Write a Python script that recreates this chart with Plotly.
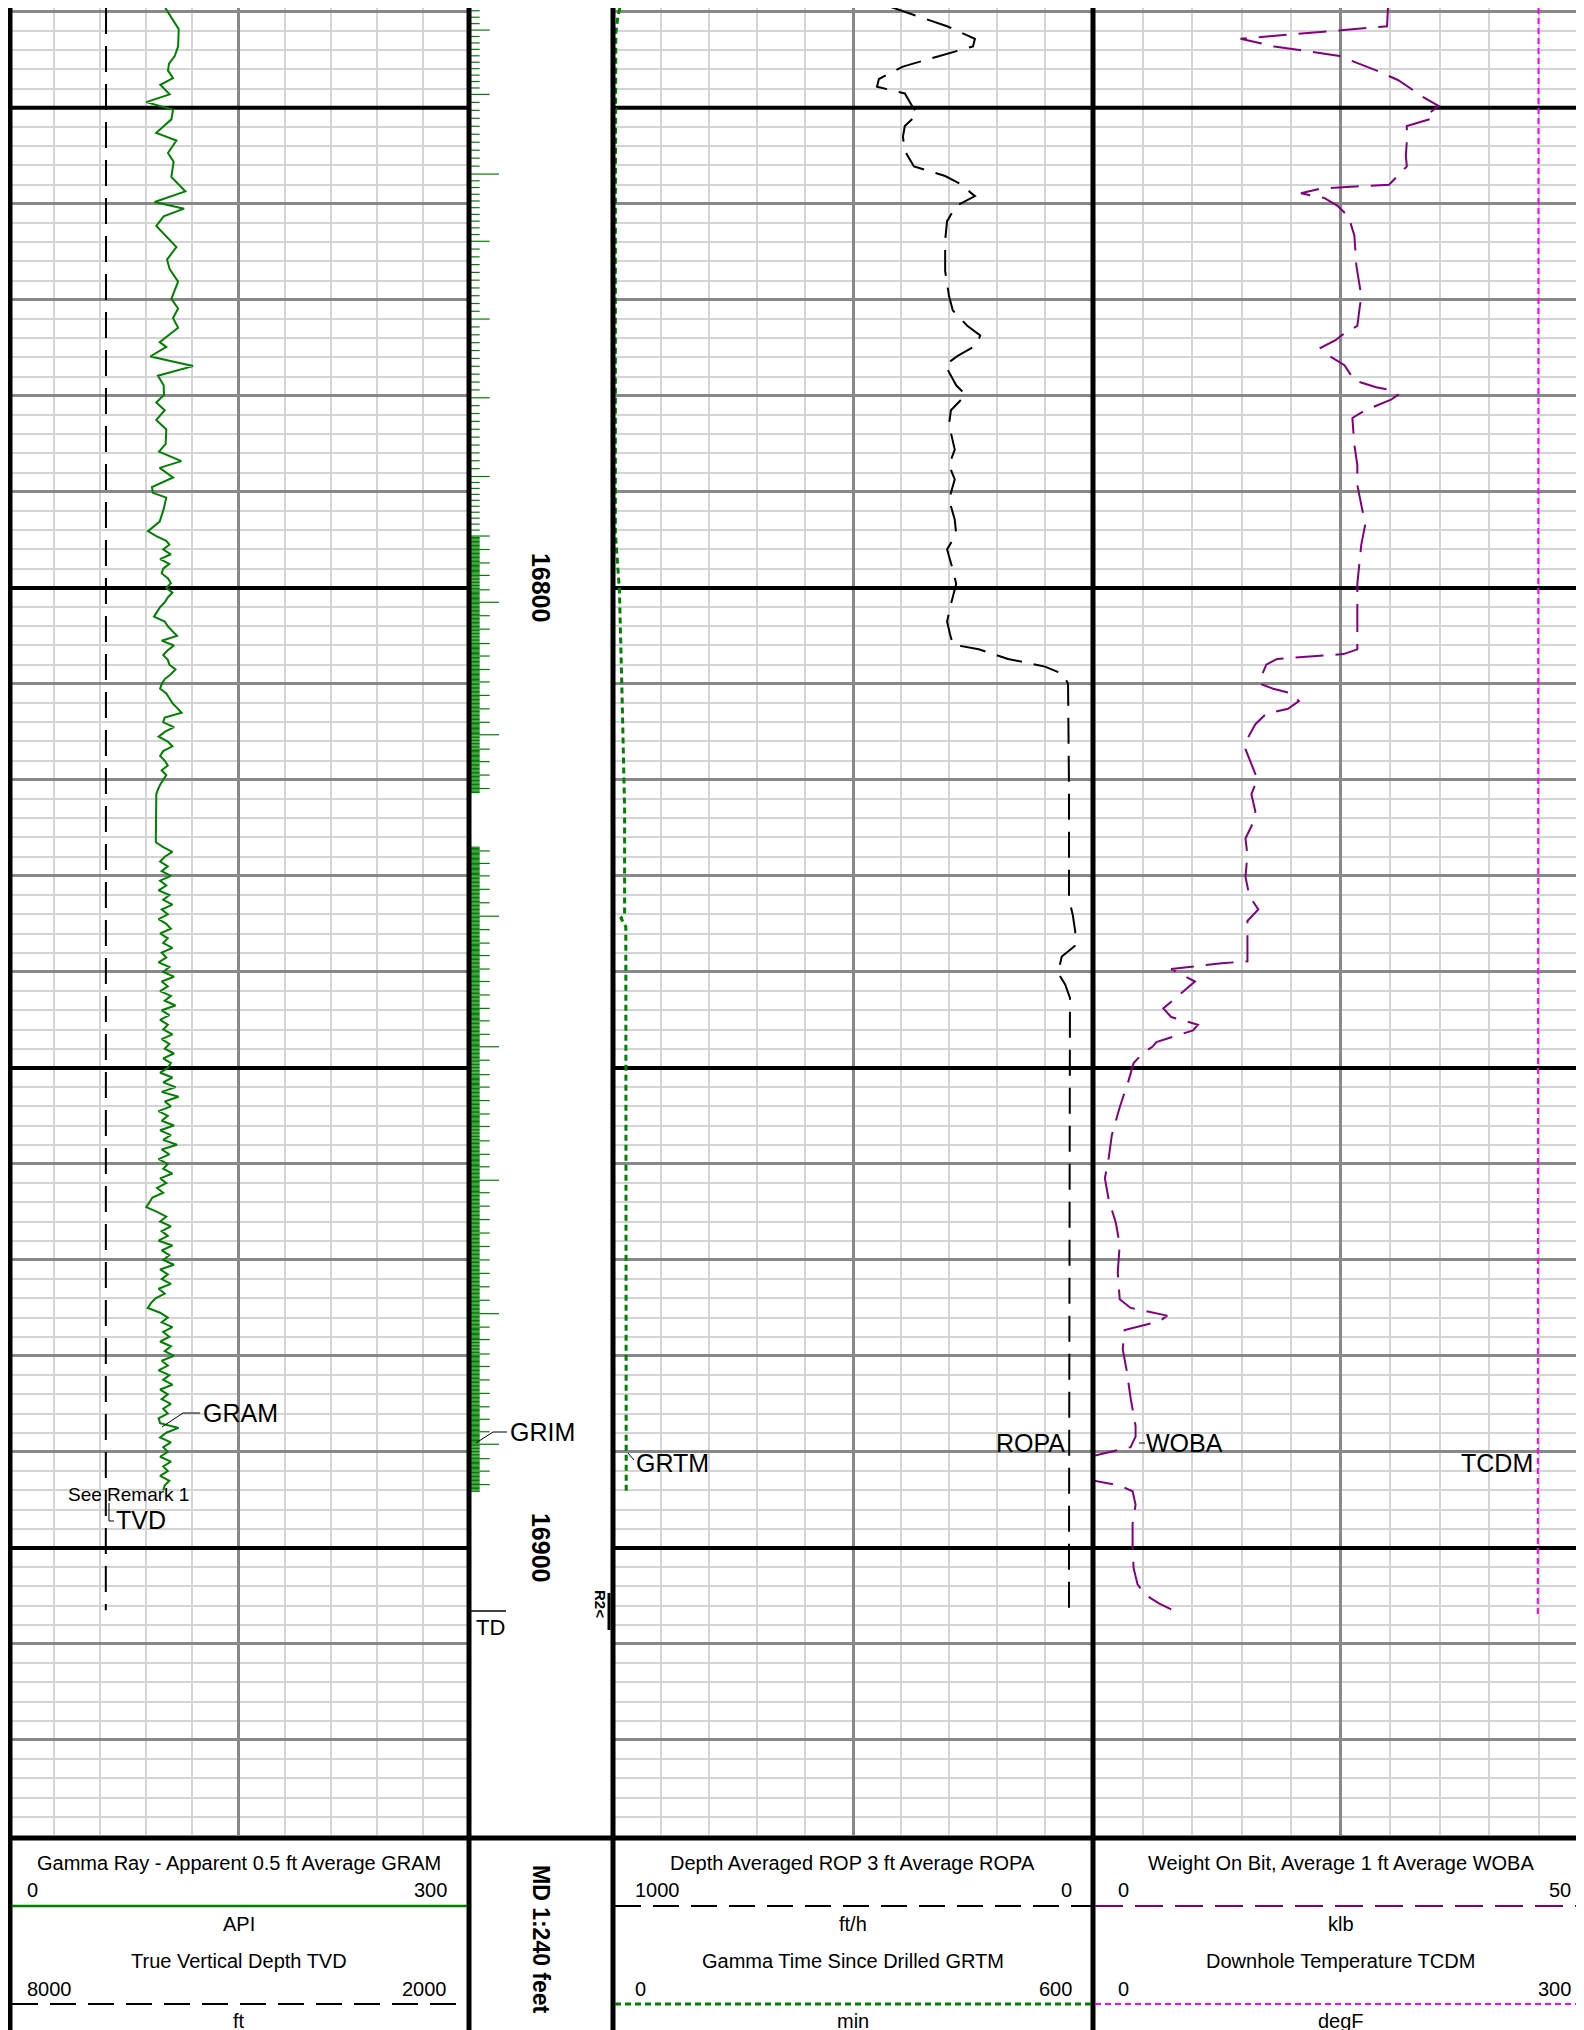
import plotly.graph_objects as go

W, H = 1584, 2030
FONT = "Liberation Sans, Arial, Helvetica, sans-serif"

# ---------------- data ----------------
DEPTH_TOP, DEPTH_BOTTOM = 16739.6, 16929.9
BOLD_DEPTHS = [16750, 16800, 16850, 16900]
DEPTH_LABELS = [16800, 16900]

# Gamma Ray apparent (API), track 1, scale 0..300
GRAM_SPARSE_DEPTH = [16739.6, 16741.8, 16743.6, 16744.6, 16745.4, 16746.1, 16746.9, 16747.6, 16748.6, 16749.4,
                     16750.2, 16751.2, 16752.6, 16753.4, 16754.7, 16755.6, 16757.2, 16758.7, 16759.8, 16760.5,
                     16761.3, 16762.3, 16764.5, 16765.8, 16766.8, 16768.1, 16769.9, 16770.9, 16771.9, 16772.9,
                     16774.4, 16774.9, 16775.9, 16776.9, 16777.9, 16778.9, 16779.9, 16780.7, 16781.5, 16782.5,
                     16783.5, 16785.0, 16785.8, 16786.8, 16787.5, 16788.5, 16789.5, 16790.1, 16790.6, 16791.8,
                     16793.1, 16794.1, 16794.6, 16795.1]
GRAM_SPARSE_API = [102.4, 111.1, 110.7, 108.5, 104.8, 104.1, 107.4, 99.1, 105.2, 90.0,
                   107.4, 106.3, 96.5, 109.6, 104.1, 107.8, 106.3, 115.4, 95.4, 114.6,
                   101.3, 96.5, 109.6, 103.5, 105.2, 110.7, 106.3, 110.7, 107.4, 110.7,
                   98.7, 103.0, 92.6, 120.4, 97.6, 101.3, 101.5, 96.5, 102.0, 96.5,
                   103.0, 102.6, 98.3, 112.8, 98.7, 107.4, 93.7, 94.3, 103.0, 101.3,
                   98.7, 91.1, 96.5, 103.0]
GRAM_STEP = 0.5
GRAM_DENSE1_START = 16795.5
GRAM_DENSE1_API = [105, 101, 106, 99, 105, 101, 100, 104, 106, 103,
                   107, 104, 102, 99, 97, 95, 102, 104, 107, 110,
                   100, 108, 104, 101, 104, 105, 109, 106, 102, 100,
                   99, 103, 105, 107, 110, 113, 102, 101, 108, 102,
                   98, 104, 107, 101, 99, 102, 104, 100, 103, 101,
                   99, 97.6, 96.5]
GRAM_GAP_DEPTH = [16826.5]
GRAM_GAP_API = [96.2]
GRAM_DENSE2_START = 16827.0
GRAM_DENSE2_API = [101, 107, 102, 99, 104, 100, 106, 99, 103, 98,
                   105, 101, 107, 100, 104, 98, 103, 106, 99, 104,
                   101, 107, 100, 103, 98, 105, 101, 108, 100, 104,
                   99, 106, 102, 109, 100, 105, 99, 104, 101, 107,
                   100, 105, 102, 108, 101, 106, 104, 99, 107, 101,
                   109, 100, 111, 102, 106, 98, 104, 100, 108, 99,
                   106, 101, 110, 100, 105, 98, 104, 101, 107, 99,
                   103, 97, 101, 94, 92, 90, 97, 103, 99, 106,
                   100, 104, 98, 107, 100, 105, 101, 108, 99, 104,
                   100, 106, 98, 102, 96, 93, 91, 99, 104, 100,
                   107, 101, 105, 99, 106, 102, 108, 100, 104, 98,
                   105, 101, 107, 99, 104, 100, 106, 101, 104, 98,
                   99, 111, 103, 99, 106, 101, 104, 99, 106, 101,
                   104, 99, 105, 102, 101]

# True vertical depth (ft), track 1, scale 8000..2000
TVD_DEPTH = [16739.6, 16800.0, 16850.0, 16906.5]
TVD_FT = [6724, 6725, 6726, 6727]

# Depth-averaged ROP (ft/h), track 2, scale 1000..0
ROPA_DEPTH = [16739.5, 16741.5, 16742.8, 16743.6, 16744.7, 16745.7, 16747.0, 16747.8, 16748.5, 16749.8,
              16750.6, 16751.9, 16753.0, 16754.5, 16756.1, 16757.1, 16757.9, 16759.2, 16760.2, 16761.8,
              16763.8, 16767.0, 16769.6, 16771.1, 16772.7, 16773.7, 16774.7, 16775.8, 16776.8, 16778.9,
              16779.9, 16781.5, 16783.0, 16785.6, 16787.2, 16788.7, 16790.8, 16792.9, 16794.4, 16796.0,
              16798.1, 16799.6, 16801.7, 16803.5, 16804.8, 16805.9, 16806.4, 16807.4, 16808.2, 16809.0,
              16810.0, 16820.8, 16832.4, 16834.1, 16835.8, 16837.3, 16838.4, 16840.1, 16841.3, 16842.7,
              16901.0, 16906.4]
ROPA_FTH = [421, 304, 246, 250, 327, 396, 446, 450, 392, 377,
            365, 392, 396, 392, 373, 308, 277, 246, 285, 304,
            308, 308, 300, 292, 262, 235, 242, 281, 308, 285,
            265, 296, 300, 288, 300, 288, 300, 288, 285, 304,
            292, 285, 296, 304, 298, 292, 238, 177, 100, 62,
            52, 50, 50, 42, 37, 38, 65, 73, 58, 48,
            50, 50]

# Gamma time since drilled (min), track 2, scale 0..600
GRTM_DEPTH = [16739.6, 16740.5, 16742.3, 16760.0, 16794.3, 16800.2, 16810.0, 16823.0, 16834.0, 16834.4,
              16835.3, 16860.0, 16894.2]
GRTM_MIN = [8.5, 6.0, 3.5, 3.0, 3.0, 8.0, 11.0, 14.5, 14.5, 10.0,
            16.0, 16.5, 16.5]

# Weight on bit (klb), track 3, scale 0..50
WOBA_DEPTH = [16739.5, 16741.5, 16742.8, 16743.6, 16744.6, 16746.1, 16747.1, 16748.9, 16749.8, 16750.6,
              16751.1, 16751.9, 16753.5, 16755.0, 16756.1, 16757.1, 16758.0, 16758.4, 16758.9, 16759.4,
              16760.2, 16761.3, 16763.3, 16766.4, 16769.6, 16771.1, 16772.7, 16773.7, 16774.2, 16775.0,
              16775.8, 16776.8, 16778.4, 16779.1, 16779.4, 16779.9, 16780.4, 16781.5, 16782.3, 16785.1,
              16787.2, 16789.3, 16791.3, 16793.4, 16795.5, 16797.6, 16799.6, 16801.7, 16804.3, 16806.4,
              16806.9, 16807.4, 16808.0, 16809.0, 16810.0, 16810.5, 16811.0, 16811.8, 16812.6, 16813.1,
              16814.2, 16815.7, 16816.8, 16818.3, 16819.9, 16821.5, 16823.3, 16824.4, 16826.1, 16827.8,
              16830.1, 16832.1, 16833.5, 16834.7, 16837.0, 16838.9, 16839.1, 16839.7, 16841.0, 16842.1,
              16843.8, 16844.7, 16845.5, 16846.1, 16846.7, 16847.3, 16847.8, 16848.4, 16849.5, 16851.3,
              16854.1, 16857.0, 16859.3, 16861.5, 16863.8, 16866.1, 16868.4, 16871.3, 16874.1, 16875.0,
              16875.8, 16876.4, 16877.3, 16879.3, 16881.5, 16884.4, 16887.3, 16888.4, 16889.5, 16890.4,
              16893.0, 16893.5, 16894.1, 16895.5, 16897.5, 16899.8, 16902.1, 16903.8, 16904.9, 16905.8,
              16906.4]
WOBA_KLB = [29.8, 29.7, 14.9, 18.3, 24.9, 28.6, 30.8, 33.4, 34.9, 33.9,
            34.3, 31.7, 31.7, 31.6, 31.7, 30.8, 29.9, 23.0, 21.0, 23.4,
            24.7, 25.8, 26.4, 26.6, 27.1, 26.9, 26.7, 25.1, 24.5, 23.0,
            23.8, 25.4, 26.4, 28.6, 30.1, 30.8, 30.1, 27.5, 26.2, 26.4,
            26.7, 26.7, 27.1, 27.5, 27.1, 26.9, 26.7, 26.7, 26.7, 26.7,
            25.3, 18.6, 17.5, 17.1, 16.9, 18.2, 20.1, 20.8, 19.7, 17.5,
            16.4, 15.6, 15.4, 16.0, 16.6, 16.0, 16.4, 16.2, 15.4, 15.6,
            15.4, 15.8, 16.7, 15.6, 15.6, 15.6, 13.0, 7.9, 10.3, 9.0,
            7.1, 7.9, 10.6, 10.1, 8.2, 6.4, 6.0, 5.1, 4.1, 3.6,
            2.7, 1.9, 1.6, 1.2, 1.6, 2.3, 2.7, 2.5, 2.7, 3.8,
            7.5, 6.7, 3.2, 3.0, 3.4, 3.8, 4.3, 4.3, 3.8, 0.1,
            0.1, 2.7, 4.0, 4.3, 4.0, 4.0, 4.1, 4.5, 5.3, 6.7,
            7.9]

# Downhole temperature (degF), track 3, scale 0..300
TCDM_DEPTH = [16739.6, 16780.0, 16820.0, 16860.0, 16889.0, 16890.5, 16907.0]
TCDM_DEGF = [270.0, 269.9, 269.7, 269.6, 269.4, 269.8, 269.6]

# GRIM time marks in the depth track (10-unit marks, 100-unit long marks)
GRIM_MARKS_A = [16741.9, 16748.6, 16756.9, 16763.9, 16772.0, 16780.2, 16788.4, 16794.6, 16796.0, 16797.4,
                16798.7, 16800.2, 16801.5, 16802.9, 16804.3, 16805.8, 16807.1, 16808.5, 16809.8, 16811.2,
                16812.6, 16814.0, 16815.3, 16816.8, 16818.1, 16819.5, 16820.9]
GRIM_MARKS_B = [16827.4, 16828.7, 16830.0, 16831.4, 16832.8, 16834.2, 16835.6, 16837.0, 16838.3, 16839.7,
                16841.0, 16842.4, 16843.8, 16845.1, 16846.5, 16847.8, 16849.2, 16850.7, 16852.0, 16853.4,
                16854.8, 16856.1, 16857.6, 16859.0, 16860.3, 16861.7, 16863.0, 16864.4, 16865.8, 16867.2,
                16868.6, 16870.0, 16871.4, 16872.8, 16874.2, 16875.6, 16877.0, 16878.3, 16879.8, 16881.1,
                16882.5, 16883.9, 16885.3, 16886.6, 16887.9, 16889.2, 16890.7, 16892.0, 16893.4]
GRIM_LONG = [16756.9, 16801.5, 16815.3, 16834.2, 16847.8, 16861.7, 16875.6, 16889.2]
GRIM_EXTENTS = [(16739.5, 16821.4), (16826.9, 16894.1)]

# ---------------- geometry (pixels) ----------------
T1 = (0, 461)
TDC = (461, 605)
T2 = (605, 1085)
T3 = (1085, 1580)
GRID_BOTTOM = 1827
YDOM = [1 - GRID_BOTTOM / H, 1]


def dom(t):
    return [t[0] / W, t[1] / W]


def pxx(x):
    return x / W


def pxy(y):
    return 1 - y / H


# ---------------- build derived series ----------------
gram_depth = list(GRAM_SPARSE_DEPTH)
gram_api = list(GRAM_SPARSE_API)
gram_depth += [GRAM_DENSE1_START + i * GRAM_STEP for i in range(len(GRAM_DENSE1_API))]
gram_api += GRAM_DENSE1_API
gram_depth += GRAM_GAP_DEPTH
gram_api += GRAM_GAP_API
gram_depth += [GRAM_DENSE2_START + i * GRAM_STEP for i in range(len(GRAM_DENSE2_API))]
gram_api += GRAM_DENSE2_API

LEN_SHORT, LEN_MID, LEN_LONG = 10.7 / 144, 20.7 / 144, 30 / 144
tick_x, tick_y = [], []


def add_tick(d, ln):
    tick_x.extend([0, ln, None])
    tick_y.extend([d, d, None])


for marks, (lo, hi) in zip([GRIM_MARKS_A, GRIM_MARKS_B], GRIM_EXTENTS):
    for i, m in enumerate(marks):
        is_long = any(abs(m - L) < 0.05 for L in GRIM_LONG)
        add_tick(m, LEN_LONG if is_long else LEN_MID)
        if i + 1 < len(marks):
            sp = (marks[i + 1] - m) / 10
            for k in range(1, 10):
                add_tick(m + k * sp, LEN_SHORT)
    sp0 = (marks[1] - marks[0]) / 10
    d = marks[0] - sp0
    while d >= lo:
        add_tick(d, LEN_SHORT)
        d -= sp0
    sp1 = (marks[-1] - marks[-2]) / 10
    d = marks[-1] + sp1
    while d <= hi:
        add_tick(d, LEN_SHORT)
        d += sp1

# ---------------- figure ----------------
fig = go.Figure()

GREEN = "#008000"
PURPLE = "#800080"
MAGENTA = "#ff00ff"
DASH_LONG = "26px,12px"
DASH_W = "28px,12px"
DOT = "6px,4px"


def bold_lines(xaxis, yaxis, lo, hi):
    xs, ys = [], []
    for d in BOLD_DEPTHS:
        xs += [lo, hi, None]
        ys += [d, d, None]
    fig.add_trace(go.Scatter(x=xs, y=ys, xaxis=xaxis, yaxis=yaxis, mode="lines",
                             line=dict(color="black", width=4), hoverinfo="skip"))


# heavy 50-ft depth lines first (under the curves)
bold_lines("x", "y", 0, 300)
bold_lines("x3", "y2", 1000, 0)
bold_lines("x5", "y3", 0, 50)

fig.add_trace(go.Scatter(x=gram_api, y=gram_depth, xaxis="x", yaxis="y", mode="lines",
                         line=dict(color=GREEN, width=2), hoverinfo="skip"))
fig.add_trace(go.Scatter(x=TVD_FT, y=TVD_DEPTH, xaxis="x2", yaxis="y", mode="lines",
                         line=dict(color="black", width=2, dash=DASH_LONG), hoverinfo="skip"))
fig.add_trace(go.Scatter(x=ROPA_FTH, y=ROPA_DEPTH, xaxis="x3", yaxis="y2", mode="lines",
                         line=dict(color="black", width=2, dash=DASH_LONG), hoverinfo="skip"))
fig.add_trace(go.Scatter(x=GRTM_MIN, y=GRTM_DEPTH, xaxis="x4", yaxis="y2", mode="lines",
                         line=dict(color=GREEN, width=3, dash=DOT), hoverinfo="skip"))
fig.add_trace(go.Scatter(x=WOBA_KLB, y=WOBA_DEPTH, xaxis="x5", yaxis="y3", mode="lines",
                         line=dict(color=PURPLE, width=2, dash=DASH_W), hoverinfo="skip"))
fig.add_trace(go.Scatter(x=TCDM_DEGF, y=TCDM_DEPTH, xaxis="x6", yaxis="y3", mode="lines",
                         line=dict(color=MAGENTA, width=2, dash=DOT), hoverinfo="skip"))
fig.add_trace(go.Scatter(x=tick_x, y=tick_y, xaxis="x7", yaxis="y4", mode="lines",
                         line=dict(color=GREEN, width=1.2), hoverinfo="skip", connectgaps=False))

MINOR_C, MAJOR_C = "#d4d4d4", "#888888"


def track_x(domain, rng, dtick, minor_dtick, anchor):
    return dict(domain=domain, range=rng, anchor=anchor, showticklabels=False, ticks="",
                showline=False, zeroline=False, showgrid=True, gridcolor=MAJOR_C, gridwidth=3,
                tick0=0, dtick=dtick,
                minor=dict(tick0=0, dtick=minor_dtick, showgrid=True, gridcolor=MINOR_C, gridwidth=2, ticks=""))


def over_x(domain, rng, over, anchor):
    return dict(domain=domain, range=rng, overlaying=over, anchor=anchor, visible=False,
                showgrid=False, zeroline=False)


def track_y(anchor, grid=True, match=None):
    d = dict(domain=YDOM, range=[DEPTH_BOTTOM, DEPTH_TOP], anchor=anchor, showticklabels=False,
             ticks="", showline=False, zeroline=False, showgrid=grid, gridcolor=MAJOR_C, gridwidth=3,
             tick0=0, dtick=10,
             minor=dict(tick0=0, dtick=2, showgrid=grid, gridcolor=MINOR_C, gridwidth=2, ticks=""))
    if match:
        d["matches"] = match
    return d


shapes = []

# track borders
for bx in [2, T1[1], T2[0], T3[0], T3[1]]:
    shapes.append(dict(type="line", xref="paper", yref="paper", x0=pxx(bx), x1=pxx(bx), y0=0, y1=1,
                       line=dict(color="black", width=5), layer="above"))
# header top & bottom borders
shapes.append(dict(type="line", xref="paper", yref="paper", x0=0, x1=pxx(1582), y0=pxy(1830), y1=pxy(1830),
                   line=dict(color="black", width=5), layer="above"))
shapes.append(dict(type="line", xref="paper", yref="paper", x0=0, x1=pxx(1582), y0=pxy(2028), y1=pxy(2028),
                   line=dict(color="black", width=4), layer="above"))


def hline(x0, x1, y, color, width, dash="solid"):
    shapes.append(dict(type="line", xref="paper", yref="paper", x0=pxx(x0), x1=pxx(x1), y0=pxy(y), y1=pxy(y),
                       line=dict(color=color, width=width, dash=dash), layer="above"))


# header legend lines
hline(4, 459, 1898, GREEN, 2.5)
hline(4, 459, 1996, "black", 2, DASH_LONG)
hline(607, 1083, 1898, "black", 2, DASH_LONG)
hline(607, 1083, 1996, GREEN, 3, DOT)
hline(1087, 1578, 1898, PURPLE, 2, DASH_W)
hline(1087, 1578, 1996, MAGENTA, 2, DOT)


def path(points, color="black", width=1):
    p = "M" + " L".join(f"{pxx(x):.5f},{pxy(y):.5f}" for x, y in points)
    shapes.append(dict(type="path", xref="paper", yref="paper", path=p,
                       line=dict(color=color, width=width), layer="above"))


# leader lines and markers
path([(154, 1419), (175, 1405), (192, 1405)])           # GRAM
path([(468, 1435), (485, 1424), (499, 1424)])           # GRIM
path([(101, 1495), (101, 1513), (106, 1513)])           # TVD
path([(620, 1445), (626, 1452)])                        # GRTM
path([(1131, 1435), (1137, 1435)])                      # WOBA
path([(462, 1603), (498, 1603)], width=1.5)             # TD
path([(601, 1585), (601, 1622)], width=3)               # R2 marker

annotations = []


def ann(x, y, text, size=20, xa="center", ya="middle", angle=0, yref="paper"):
    annotations.append(dict(x=pxx(x), y=(pxy(y) if yref == "paper" else y), xref="paper", yref=yref,
                            text=text, showarrow=False, xanchor=xa, yanchor=ya, textangle=angle,
                            font=dict(family=FONT, size=size, color="black")))


# header texts
c1, c2, c3 = (T1[0] + T1[1]) / 2 + 1, (T2[0] + T2[1]) / 2, (T3[0] + T3[1]) / 2
ann(c1, 1855, "Gamma Ray - Apparent 0.5 ft Average GRAM")
ann(17, 1882, "0", xa="left")
ann(441, 1882, "300", xa="right")
ann(c1, 1916, "API")
ann(c1, 1953, "True Vertical Depth TVD")
ann(17, 1981, "8000", xa="left")
ann(441, 1981, "2000", xa="right")
ann(c1, 2013, "ft")

ann(533, 1931, "<b>MD 1:240 feet</b>", size=23, angle=90)

ann(c2, 1855, "Depth Averaged ROP 3 ft Average ROPA")
ann(625, 1882, "1000", xa="left")
ann(1066, 1882, "0", xa="right")
ann(c2, 1916, "ft/h")
ann(c2, 1953, "Gamma Time Since Drilled GRTM")
ann(625, 1981, "0", xa="left")
ann(1066, 1981, "600", xa="right")
ann(c2, 2013, "min")

ann(c3, 1855, "Weight On Bit, Average 1 ft Average WOBA")
ann(1108, 1882, "0", xa="left")
ann(1565, 1882, "50", xa="right")
ann(c3, 1916, "klb")
ann(c3, 1953, "Downhole Temperature TCDM")
ann(1108, 1981, "0", xa="left")
ann(1565, 1981, "300", xa="right")
ann(c3, 2013, "degF")

# depth labels
for d in DEPTH_LABELS:
    ann(533, d, f"<b>{d}</b>", size=25, angle=90, yref="y")

# curve labels
ann(193, 1405, "GRAM", size=25, xa="left")
ann(500, 1424, "GRIM", size=25, xa="left")
ann(120, 1486, "See Remark 1", size=19)
ann(106, 1512, "TVD", size=25, xa="left")
ann(626, 1455, "GRTM", size=25, xa="left")
ann(1059, 1435, "ROPA", size=25, xa="right")
ann(1136, 1435, "WOBA", size=25, xa="left")
ann(1527, 1455, "TCDM", size=25, xa="right")
ann(466, 1619, "TD", size=22, xa="left")
ann(593, 1596, "<b>R2&lt;</b>", size=15, angle=90)

fig.update_layout(
    width=W, height=H, margin=dict(l=0, r=0, t=0, b=0, pad=0),
    paper_bgcolor="white", plot_bgcolor="white", showlegend=False,
    xaxis=track_x(dom(T1), [0, 300], 150, 30, "y"),
    xaxis2=over_x(dom(T1), [8000, 2000], "x", "y"),
    xaxis3=track_x(dom(T2), [1000, 0], 500, 100, "y2"),
    xaxis4=over_x(dom(T2), [0, 600], "x3", "y2"),
    xaxis5=track_x(dom(T3), [0, 50], 25, 5, "y3"),
    xaxis6=over_x(dom(T3), [0, 300], "x5", "y3"),
    xaxis7=dict(domain=dom(TDC), range=[0, 1], anchor="y4", visible=False, showgrid=False, zeroline=False),
    yaxis=track_y("x"),
    yaxis2=track_y("x3", match="y"),
    yaxis3=track_y("x5", match="y"),
    yaxis4=dict(domain=YDOM, range=[DEPTH_BOTTOM, DEPTH_TOP], anchor="x7", matches="y", visible=False,
                showgrid=False, zeroline=False),
    shapes=shapes,
    annotations=annotations,
)

fig.write_html("out.html")
